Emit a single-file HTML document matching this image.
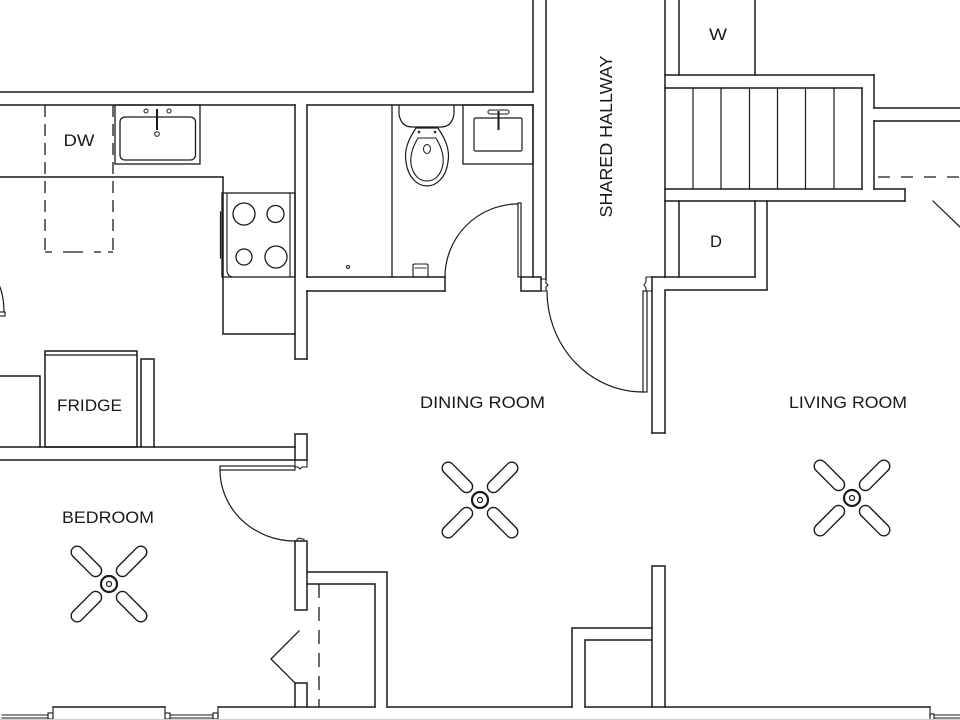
<!DOCTYPE html>
<html>
<head>
<meta charset="utf-8">
<style>
html,body{margin:0;padding:0;background:#fff;}
svg{display:block;}
text{font-family:"Liberation Sans",sans-serif;fill:#1a1a1a;}
</style>
</head>
<body>
<svg width="960" height="720" viewBox="0 0 960 720" xmlns="http://www.w3.org/2000/svg">
<rect x="0" y="0" width="960" height="720" fill="#fff"/>
<g fill="none" stroke="#1a1a1a" stroke-width="1.5" stroke-linecap="square">

<!-- top walls -->
<line x1="0" y1="92" x2="533" y2="92"/>
<line x1="0" y1="105" x2="295" y2="105"/>
<line x1="307" y1="105" x2="533" y2="105"/>

<!-- kitchen/bath wall -->
<line x1="295" y1="105" x2="295" y2="359"/>
<line x1="307" y1="105" x2="307" y2="277"/>
<line x1="307" y1="291" x2="307" y2="359"/>
<line x1="295" y1="359" x2="307" y2="359"/>

<!-- hallway left wall -->
<line x1="533" y1="0" x2="533" y2="92"/>
<line x1="533" y1="105" x2="533" y2="277"/>
<line x1="546" y1="0" x2="546" y2="279"/>

<!-- bath bottom wall -->
<line x1="307" y1="277" x2="445" y2="277"/>
<line x1="307" y1="291" x2="445" y2="291"/>
<line x1="445" y1="277" x2="445" y2="291"/>

<!-- bath door -->
<rect x="518" y="203" width="3" height="74" stroke-width="1.2"/>
<path d="M445,277 A73,73 0 0 1 518,204" stroke-width="1.2"/>
<rect x="521" y="277" width="20" height="14"/>
<path d="M541,279 L546,279 L546,283 L548,285 L546,287 L546,291 L541,291" stroke-width="1.1"/>

<!-- hall door -->
<path d="M547,291 A96,101 0 0 0 643,392" stroke-width="1.2"/>
<rect x="643" y="291" width="4" height="101" stroke-width="1.2"/>
<path d="M652,277 L646,277 L646,282 L644,285 L646,288 L646,291 L652,291" stroke-width="1.1"/>
<line x1="652" y1="277" x2="665" y2="277"/>
<line x1="652" y1="277" x2="652" y2="433"/>
<line x1="665" y1="291" x2="665" y2="433"/>
<line x1="652" y1="433" x2="665" y2="433"/>

<!-- hall right wall / W, stairs, D -->
<line x1="665" y1="0" x2="665" y2="277"/>
<line x1="679" y1="0" x2="679" y2="75"/>
<line x1="755" y1="0" x2="755" y2="75"/>
<line x1="665" y1="75" x2="874" y2="75"/>
<line x1="874" y1="75" x2="874" y2="108"/>
<line x1="874" y1="108" x2="960" y2="108"/>
<line x1="874" y1="121" x2="960" y2="121"/>
<line x1="874" y1="121" x2="874" y2="189"/>
<line x1="874" y1="189" x2="905" y2="189"/>
<line x1="905" y1="189" x2="905" y2="201"/>
<line x1="665" y1="201" x2="905" y2="201"/>
<line x1="665" y1="88" x2="862" y2="88"/>
<line x1="665" y1="189" x2="862" y2="189"/>
<line x1="862" y1="88" x2="862" y2="189"/>
<g stroke-width="1.2">
<line x1="693" y1="88" x2="693" y2="189"/>
<line x1="721" y1="88" x2="721" y2="189"/>
<line x1="749.5" y1="88" x2="749.5" y2="189"/>
<line x1="777.5" y1="88" x2="777.5" y2="189"/>
<line x1="805.5" y1="88" x2="805.5" y2="189"/>
<line x1="834" y1="88" x2="834" y2="189"/>
</g>
<line x1="878" y1="177" x2="960" y2="177" stroke-dasharray="12 11" stroke-linecap="butt" stroke-width="1.2"/>
<line x1="933" y1="201" x2="960" y2="227" stroke-width="1.2"/>
<line x1="679" y1="201" x2="679" y2="277"/>
<line x1="755" y1="201" x2="755" y2="277"/>
<line x1="665" y1="277" x2="755" y2="277"/>
<line x1="767" y1="201" x2="767" y2="290"/>
<line x1="665" y1="290" x2="767" y2="290"/>

<!-- kitchen -->
<g stroke-dasharray="12 7" stroke-linecap="butt" stroke-width="1.3">
<line x1="45" y1="105" x2="45" y2="252"/>
<line x1="113" y1="105" x2="113" y2="252"/>
<line x1="45" y1="252" x2="113" y2="252" stroke-dasharray="7 11 20 11 7"/>
</g>
<rect x="115" y="105" width="85" height="59" stroke-width="1.3"/>
<rect x="120" y="117" width="75.5" height="43" rx="5" stroke-width="1.3"/>
<circle cx="146" cy="111" r="2" stroke-width="1"/>
<circle cx="169" cy="111" r="2" stroke-width="1"/>
<line x1="157" y1="110" x2="157" y2="129" stroke-width="2"/>
<circle cx="157" cy="134" r="2.3" stroke-width="1"/>
<polyline points="0,177 223,177 223,334 295,334"/>
<rect x="222" y="193" width="73" height="84" stroke-width="1.3"/>
<path d="M227,193 L227,271 Q228,277 233,277" stroke-width="1.1"/>
<line x1="290" y1="193" x2="290" y2="277" stroke-width="1.1"/>
<line x1="220.5" y1="212" x2="220.5" y2="258" stroke-width="1.2"/>
<circle cx="244" cy="214" r="11" stroke-width="1.3"/>
<circle cx="275.5" cy="214" r="8.5" stroke-width="1.3"/>
<circle cx="244" cy="257" r="8" stroke-width="1.3"/>
<circle cx="276" cy="257" r="11" stroke-width="1.3"/>
<path d="M0,287 Q4,298 4,312" stroke-width="1.2"/>
<line x1="0" y1="312" x2="5" y2="312" stroke-width="1.1"/>
<line x1="0" y1="316" x2="5" y2="316" stroke-width="1.1"/>
<line x1="5" y1="312" x2="5" y2="316" stroke-width="1.1"/>

<!-- fridge area -->
<rect x="45" y="351" width="92" height="96"/>
<line x1="45" y1="355" x2="137" y2="355" stroke-width="1.2"/>
<polyline points="0,376 40,376 40,447"/>
<polyline points="141,447 141,359 154,359 154,447"/>
<line x1="0" y1="447" x2="295" y2="447"/>
<line x1="0" y1="460" x2="295" y2="460"/>
<rect x="295" y="434" width="12" height="26"/>
<path d="M295,460 L295,467 L298,467 L300,469 L302,467 L307,467 L307,460" stroke-width="1.1"/>

<!-- bedroom door -->
<rect x="220" y="466" width="75" height="4" stroke-width="1.2"/>
<path d="M220,470 A75,71 0 0 0 295,541" stroke-width="1.2"/>
<rect x="295" y="541" width="12" height="69"/>
<path d="M297,541 L297,539 L300,538 L302,539 L304,539 L304,541" stroke-width="1"/>

<!-- closet -->
<polyline points="307,572 387,572 387,707"/>
<polyline points="307,584 375,584 375,707"/>
<line x1="319" y1="584" x2="319" y2="707" stroke-dasharray="14 9" stroke-linecap="butt" stroke-width="1.3"/>
<polyline points="299,631 271,659 295,683" stroke-width="1.3"/>
<rect x="295" y="683" width="12" height="24"/>

<!-- dining bottom right -->
<rect x="652" y="566" width="13" height="141"/>
<polyline points="572,707 572,628 652,628"/>
<polyline points="585,707 585,640 652,640"/>

<!-- bottom wall -->
<line x1="53" y1="707" x2="165" y2="707"/>
<line x1="218" y1="707" x2="295" y2="707"/>
<line x1="307" y1="707" x2="375" y2="707"/>
<line x1="387" y1="707" x2="572" y2="707"/>
<line x1="585" y1="707" x2="652" y2="707"/>
<line x1="665" y1="707" x2="930" y2="707"/>

<!-- windows -->
<g stroke-width="1.1">
<line x1="53" y1="707" x2="53" y2="720"/>
<rect x="48" y="713" width="5" height="6"/>
<line x1="2" y1="715" x2="48" y2="715"/>
<line x1="2" y1="718" x2="48" y2="718"/>
<line x1="165" y1="707" x2="165" y2="720"/>
<line x1="218" y1="707" x2="218" y2="720"/>
<rect x="165" y="713" width="5" height="6"/>
<rect x="213" y="713" width="5" height="6"/>
<line x1="170" y1="715" x2="213" y2="715"/>
<line x1="170" y1="718" x2="213" y2="718"/>
<line x1="930" y1="707" x2="930" y2="720"/>
<rect x="930" y="714" width="4" height="6"/>
<line x1="934" y1="715" x2="960" y2="715"/>
<line x1="934" y1="718" x2="960" y2="718"/>
</g>

<!-- bath fixtures -->
<line x1="392" y1="105" x2="392" y2="277" stroke-width="1.3"/>
<circle cx="348" cy="267" r="1.5" stroke-width="1"/>
<rect x="413" y="264" width="15" height="13" rx="1.5" stroke-width="1.1"/>
<line x1="415" y1="268" x2="426" y2="268" stroke-width="0.9"/>
<path d="M399,105 L399,114 Q401,127 412,127 L441,127 Q452,127 454,114 L454,105" stroke-width="1.2"/>
<path d="M416,128 L438,128 C446,140 450,150 448,162 C446,178 436,186 427,186 C418,186 408,178 406,162 C404,150 408,140 416,128 Z" stroke-width="1.2"/>
<path d="M418,138 L436,138 C442,148 444,156 443,164 C441,176 434,181 427,181 C420,181 413,176 411,164 C410,156 412,148 418,138 Z" stroke-width="1.1"/>
<ellipse cx="427" cy="149" rx="3.5" ry="4.5" stroke-width="1"/>
<circle cx="419" cy="132" r="0.8" stroke-width="1"/>
<circle cx="435" cy="132" r="0.8" stroke-width="1"/>
<rect x="463" y="105" width="70" height="59" stroke-width="1.3"/>
<rect x="474" y="118" width="48" height="33" rx="1.5" stroke-width="1.2"/>
<rect x="488" y="110" width="21" height="4" rx="2" stroke-width="1"/>
<line x1="498.5" y1="112" x2="498.5" y2="129" stroke-width="2"/>

<!-- bottom edge -->
<line x1="0" y1="719.5" x2="960" y2="719.5" stroke="#d0d0d0" stroke-width="1"/>
</g>

<!-- fans -->
<defs>
<g id="fan" fill="none" stroke="#1a1a1a" stroke-width="1.4">
<rect x="13" y="-6" width="38" height="12" rx="6" transform="rotate(45)"/>
<rect x="13" y="-6" width="38" height="12" rx="6" transform="rotate(135)"/>
<rect x="13" y="-6" width="38" height="12" rx="6" transform="rotate(225)"/>
<rect x="13" y="-6" width="38" height="12" rx="6" transform="rotate(315)"/>
<circle cx="0" cy="0" r="8" fill="#fff" stroke-width="2.2"/>
<circle cx="0" cy="0" r="2.5" stroke-width="1.2"/>
</g>
</defs>
<use href="#fan" x="480" y="500"/>
<use href="#fan" x="852" y="498"/>
<use href="#fan" x="109" y="584"/>

<!-- labels -->
<g font-size="16.5">
<text x="79" y="146" text-anchor="middle" textLength="31" lengthAdjust="spacingAndGlyphs">DW</text>
<text x="89.5" y="411" text-anchor="middle" textLength="65" lengthAdjust="spacingAndGlyphs">FRIDGE</text>
<text x="108" y="523" text-anchor="middle" textLength="92" lengthAdjust="spacingAndGlyphs">BEDROOM</text>
<text x="482.5" y="408" text-anchor="middle" textLength="125" lengthAdjust="spacingAndGlyphs">DINING ROOM</text>
<text x="848" y="408" text-anchor="middle" textLength="118" lengthAdjust="spacingAndGlyphs">LIVING ROOM</text>
<text x="718" y="40" text-anchor="middle" textLength="18" lengthAdjust="spacingAndGlyphs">W</text>
<text x="716" y="247" text-anchor="middle" textLength="12" lengthAdjust="spacingAndGlyphs">D</text>
<text x="0" y="0" font-size="17.5" text-anchor="middle" textLength="162" lengthAdjust="spacingAndGlyphs" transform="translate(612,136.5) rotate(-90)">SHARED HALLWAY</text>
</g>
</svg>
</body>
</html>
